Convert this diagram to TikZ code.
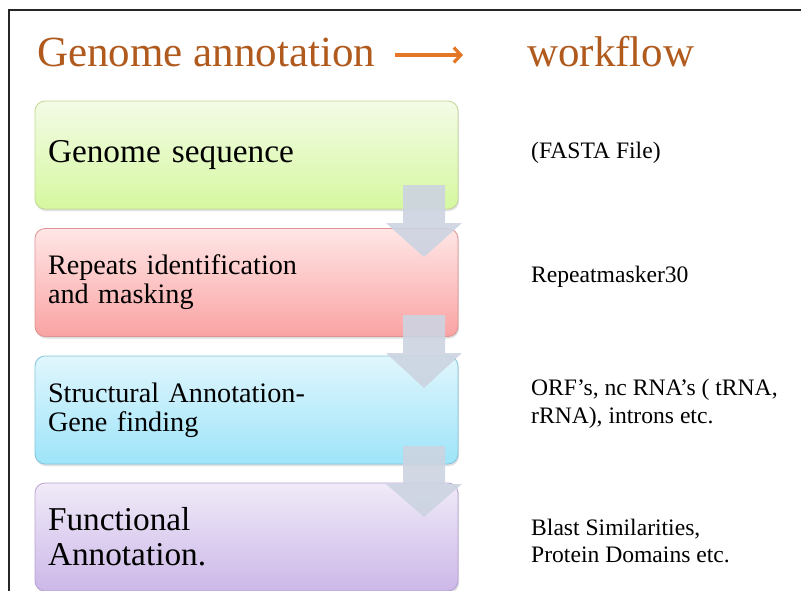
\documentclass[tikz,border=0pt]{standalone}
\usepackage{fontspec}
\setmainfont{Liberation Serif}
\usetikzlibrary{arrows.meta,shadows}

\definecolor{titlebrown}{RGB}{176,90,30}
\definecolor{titleorange}{RGB}{228,118,38}
\definecolor{greentop}{RGB}{243,251,230}
\definecolor{greenbot}{RGB}{214,248,160}
\definecolor{greenline}{RGB}{196,216,150}
\definecolor{pinktop}{RGB}{255,230,230}
\definecolor{pinkbot}{RGB}{250,163,163}
\definecolor{pinkline}{RGB}{222,148,148}
\definecolor{cyantop}{RGB}{224,246,253}
\definecolor{cyanbot}{RGB}{158,228,249}
\definecolor{cyanline}{RGB}{132,196,218}
\definecolor{purpletop}{RGB}{240,234,248}
\definecolor{purplebot}{RGB}{204,184,232}
\definecolor{purpleline}{RGB}{182,162,210}
\definecolor{flowgray}{RGB}{204,212,225}

\tikzset{
  stage/.style={rounded corners=10pt, line width=0.8pt,
    minimum height=108pt, inner xsep=13pt, text width=397pt, align=left,
    drop shadow={shadow xshift=1pt, shadow yshift=-2pt, opacity=0.25}},
  bigtxt/.style={font=\fontsize{33.3pt}{35pt}\selectfont},
  midtxt/.style={font=\fontsize{28.2pt}{29pt}\selectfont},
  note/.style={anchor=west, inner sep=0pt, align=left,
    font=\fontsize{23.6pt}{27.5pt}\selectfont},
  titletxt/.style={anchor=base west, inner sep=0pt, text=titlebrown,
    font=\fontsize{43pt}{48pt}\selectfont},
  flowarrow/.style={fill=flowgray, opacity=0.9},
  frame/.style={line width=1.6pt, draw=black!85}
}

\begin{document}
\begin{tikzpicture}[x=1pt,y=1pt]
\useasboundingbox (0,0) rectangle (801,-590);
\fill[white] (0,0) rectangle (801,-590);

% page frame
\draw[frame] (9,-592) -- (9,-10) -- (801,-10);

% heading
\node[titletxt] (t1) at (37,-66) {Genome annotation};
\node[titletxt] (t2) at (527,-66) {workflow};
\coordinate (ha) at (395,-55);
\coordinate (hb) at (463,-55);
\draw[titleorange, line width=3.4pt,
  -{Straight Barb[length=7pt,width=15pt,line width=3.2pt]}] (ha) -- (hb);

% workflow stages
\node[stage, top color=greentop, bottom color=greenbot, draw=greenline, bigtxt]
  (b1) at (246.5,-155) {Genome sequence};
\node[stage, top color=pinktop, bottom color=pinkbot, draw=pinkline, midtxt]
  (b2) at (246.5,-282.5) {Repeats identification\\and masking};
\node[stage, top color=cyantop, bottom color=cyanbot, draw=cyanline, midtxt]
  (b3) at (246.5,-410) {Structural Annotation-\\Gene finding};
\node[stage, top color=purpletop, bottom color=purplebot, draw=purpleline, bigtxt]
  (b4) at (246.5,-537) {Functional\\Annotation.};

% block arrows between stages
\fill[flowarrow] (403,-185) -- (445,-185) -- (445,-223) -- (462,-223)
  -- (424,-257) -- (386,-223) -- (403,-223) -- cycle;
\fill[flowarrow] (403,-315) -- (445,-315) -- (445,-353) -- (462,-353)
  -- (424,-388) -- (386,-353) -- (403,-353) -- cycle;
\fill[flowarrow] (403,-446) -- (445,-446) -- (445,-484) -- (462,-484)
  -- (424,-517) -- (386,-484) -- (403,-484) -- cycle;

% tools and outputs of each stage
\node[note] (r1) at (531,-153) {(FASTA File)};
\node[note] (r2) at (531,-277) {Repeatmasker30};
\node[note] (r3) at (531,-404) {ORF’s, nc RNA’s ( tRNA,\\rRNA), introns etc.};
\node[note] (r4) at (531,-541) {Blast Similarities,\\Protein Domains etc.};
\end{tikzpicture}
\end{document}
